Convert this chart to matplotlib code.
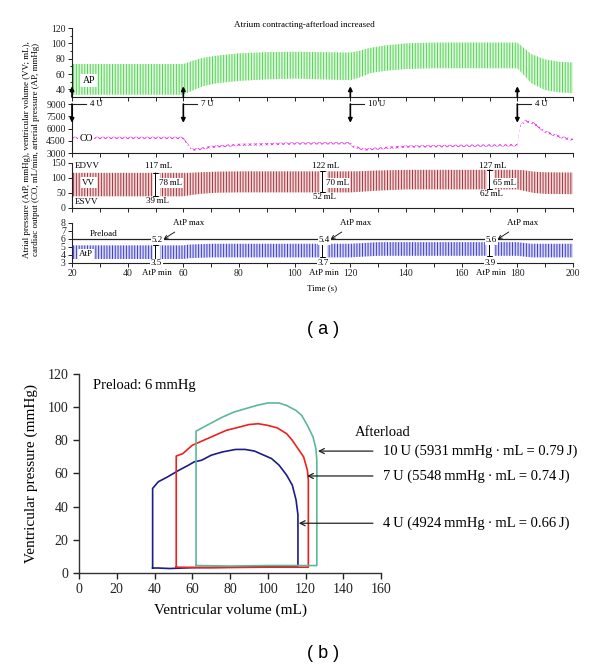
import numpy as np
import matplotlib
matplotlib.use("Agg")
import matplotlib.pyplot as plt

plt.rcParams['font.family'] = ['Liberation Serif', 'DejaVu Serif']
plt.rcParams['hatch.linewidth'] = 0.7

# ---------------- panel (a): envelope keypoints ----------------
ap_t = [20, 60, 63, 67, 72, 80, 90, 100, 120, 123, 127, 132, 140, 150, 160, 170, 180, 182, 185, 190, 195, 200]
ap_hi = [73, 73, 77, 81, 84, 87, 88.5, 89, 88, 90, 94, 97, 100, 101, 101, 101, 101, 95, 86, 79, 76, 75]
ap_lo = [33, 33, 38, 44, 48, 51, 53, 54, 52, 55, 61, 64, 66.5, 67.5, 67.5, 67.5, 67.5, 60, 48, 39, 36, 35]

co_t = [20, 60, 61, 63, 66, 70, 80, 100, 120, 121, 125, 130, 140, 160, 180, 181, 183, 186, 190, 195, 200]
co_v = [4850, 4850, 4300, 3400, 3500, 3750, 4000, 4170, 4200, 3800, 3420, 3550, 3790, 3880, 3960, 6300, 6950, 6600, 5600, 5000, 4600]

vv_t = [20, 60, 62, 66, 72, 80, 120, 122, 130, 140, 180, 182, 186, 190, 200]
vv_hi = [117, 117, 117, 119, 121, 122, 122, 122, 125, 127, 127, 126, 121, 119, 118]
vv_lo = [39, 39, 42, 47, 51, 52, 52, 53, 58, 62, 62, 58, 50, 47, 46]

atp_t = [20, 60, 62, 70, 120, 130, 180, 185, 200]
atp_hi = [5.2, 5.2, 5.3, 5.4, 5.4, 5.6, 5.6, 5.4, 5.4]
atp_lo = [3.5, 3.5, 3.6, 3.7, 3.7, 3.9, 3.9, 3.7, 3.7]
preload = 6

dose_t = [20, 60, 120, 180]
dose_lab = ['4\u2009U', '7\u2009U', '10\u2009U', '4\u2009U']

mark_t = [50, 110, 170]
edvv = [117, 122, 127]
esvv = [39, 52, 62]
sv = [78, 70, 65]
atp_max = [5.2, 5.4, 5.6]
atp_min = [3.5, 3.7, 3.9]

# ---------------- panel (b): PV loops ----------------
v4 = [39, 39, 42, 47, 53, 58, 61, 65, 70, 76, 83, 88, 93, 98, 102, 106, 110, 113, 115, 116, 116, 100, 80, 60, 48, 42, 39]
p4 = [3, 51, 55, 58, 62, 65, 67, 68, 71, 73, 74.5, 74.5, 73.5, 71, 69, 65, 59, 53, 44, 35, 4, 3.8, 3.5, 3.2, 2.7, 3, 3]
v7 = [51.5, 51.5, 55, 58, 60, 64, 70, 78, 85, 90, 95, 100, 105, 110, 113, 116, 119, 121, 121.5, 121.5, 100, 70, 51.5]
p7 = [3.5, 70.5, 72, 75, 77, 79, 82, 86, 88, 89.5, 90, 89, 87.5, 84, 80, 75, 70, 62, 56, 3.5, 3.5, 3.2, 3.5]
v10 = [62, 62, 66, 71, 76, 82, 88, 94, 100, 106, 110, 115, 118, 121, 124, 125.5, 126, 126, 100, 80, 62]
p10 = [4.5, 85.5, 88, 91, 94, 97, 99, 101, 102.5, 102.5, 101, 98, 95, 89, 82, 75, 68, 4.5, 4.5, 4.2, 4.5]
work_lab = ['10\u2009U (5931\u2009mmHg\u2009·\u2009mL = 0.79\u2009J)',
            '7\u2009U (5548\u2009mmHg\u2009·\u2009mL = 0.74\u2009J)',
            '4\u2009U (4924\u2009mmHg\u2009·\u2009mL = 0.66\u2009J)']
work_p = [73.5, 58.5, 30]
work_v = [126.6, 120.8, 116.4]

fig = plt.figure(figsize=(6, 6.69), dpi=100)
L, W = 0.12, 0.835
axAP = fig.add_axes([L, 0.855, W, 0.1031])
axCO = fig.add_axes([L, 0.7713, W, 0.0732])
axVV = fig.add_axes([L, 0.6891, W, 0.0673])
axAt = fig.add_axes([L, 0.6069, W, 0.0598])
fs = 6.5
wbox = dict(fc='white', ec='none', pad=0.6)

for ax in (axAP, axCO, axVV, axAt):
    ax.set_xlim(20, 200)
    for s in ('top', 'right'):
        ax.spines[s].set_visible(False)
    for s in ('left', 'bottom'):
        ax.spines[s].set_linewidth(0.8)
        ax.spines[s].set_color('#222222')
    ax.set_xticks(np.arange(20, 201, 10))
    ax.set_xticklabels([])
    ax.tick_params(direction='out', length=3, width=0.7, labelsize=7, pad=1.5, colors='#222222')
axAt.set_xticklabels([str(v) if v % 20 == 0 else '' for v in range(20, 201, 10)])

axAP.set_ylim(30, 120); axAP.set_yticks([40, 60, 80, 100, 120])
axAP.set_yticks([50, 70, 90, 110], minor=True)
axAP.tick_params(which='minor', axis='y', direction='out', length=1.5, width=0.6)
axCO.set_ylim(3000, 9000); axCO.set_yticks([3000, 4500, 6000, 7500, 9000])
axVV.set_ylim(0, 150); axVV.set_yticks([0, 50, 100, 150])
axAt.set_ylim(3, 8); axAt.set_yticks([3, 4, 5, 6, 7, 8])

# traces
axAP.fill_between(ap_t, ap_lo, ap_hi, facecolor='#dcf7dc', edgecolor='#55d455', hatch='||||||', lw=0)
axCO.fill_between(co_t, np.array(co_v) - 140, np.array(co_v) + 140, facecolor='none',
                  edgecolor='#e83ee8', hatch='xxxxxx', lw=0)
axVV.fill_between(vv_t, vv_lo, vv_hi, facecolor='#f0d8d8', edgecolor='#a8323a', hatch='||||||', lw=0)
axAt.fill_between(atp_t, atp_lo, atp_hi, facecolor='#d8d8f6', edgecolor='#3b3bd0', hatch='||||||', lw=0)
axAt.axhline(preload, color='#222222', lw=0.9)

# trace labels
axAP.text(26, 51, 'AP', fontsize=7, ha='center', va='center', bbox=dict(fc='white', ec='none', pad=1.5))
axCO.text(25, 4800, 'CO', fontsize=7, ha='center', va='center', bbox=dict(fc='white', ec='none', pad=1.0))
axVV.text(21, 139, 'EDVV', fontsize=fs, ha='left', va='center')
axVV.text(26, 84, 'VV', fontsize=fs, ha='center', va='center', bbox=dict(fc='white', ec='none', pad=1.0))
axVV.text(21, 20, 'ESVV', fontsize=fs, ha='left', va='center')
axAt.text(31.5, 6.65, 'Preload', fontsize=fs, ha='center', va='center')
axAt.text(25, 4.15, 'AtP', fontsize=fs, ha='center', va='center', bbox=dict(fc='white', ec='none', pad=0.8))

fig.text(0.508, 1 - 25 / 669, 'Atrium contracting-afterload increased', fontsize=fs, ha='center', va='center')

# interventions
arr = dict(arrowstyle='-|>', color='black', lw=1.2, mutation_scale=6, shrinkA=0, shrinkB=0)
for t, lab in zip(dose_t, dose_lab):
    axAP.annotate('', xy=(t, 44), xytext=(t, 30), arrowprops=arr, annotation_clip=False)
    axCO.annotate('', xy=(t, 6700), xytext=(t, 9000), arrowprops=arr, annotation_clip=False)
    axCO.plot([t, t + 5], [9000, 9000], color='#222222', lw=0.8, clip_on=False)
    axCO.text(t + 6.5, 9000, lab, fontsize=fs, ha='left', va='center')

# beat annotations
ibar = dict(arrowstyle='|-|, widthA=0.2, widthB=0.2', color='black', lw=0.7, shrinkA=0, shrinkB=0)
for t, hi, lo, s, amax, amin in zip(mark_t, edvv, esvv, sv, atp_max, atp_min):
    axVV.vlines(t, lo, hi, color='white', lw=5)
    axVV.annotate('', xy=(t, hi), xytext=(t, lo), arrowprops=ibar)
    axVV.text(t + 1.3, 140, f'{hi}\u2009mL', fontsize=fs, ha='center', va='center')
    axVV.text(t + 0.6, lo - 17, f'{lo}\u2009mL', fontsize=fs, ha='center', va='center')
    axVV.text(t + 1.2, 83, f'{s}\u2009mL', fontsize=fs, ha='left', va='center', bbox=wbox)

    axAt.vlines(t, amin, amax, color='white', lw=5)
    axAt.annotate('', xy=(t, amax), xytext=(t, amin), arrowprops=ibar)
    axAt.text(t + 0.6, 5.85, f'{amax}', fontsize=fs, ha='center', va='center', bbox=wbox)
    axAt.text(t + 0.3, 2.95, f'{amin}', fontsize=fs, ha='center', va='center', bbox=wbox, clip_on=False)
    axAt.text(t + 0.5, 1.72, 'AtP min', fontsize=fs, ha='center', va='center', clip_on=False)
    axAt.annotate('AtP max', xy=(t + 3, 6.0), xytext=(t + 12, 8.0), fontsize=fs, ha='center', va='center',
                  arrowprops=dict(arrowstyle='->', lw=0.6, color='black', shrinkA=3, shrinkB=0,
                                  mutation_scale=6), annotation_clip=False)

axAt.set_xlabel('Time (s)', fontsize=fs)
axAt.xaxis.set_label_coords(0.5, -0.52)
fig.text(0.0525, 0.776, 'Atrial pressure (AtP, mmHg), ventricular volume (VV; mL),\n'
         'cardiac output (CO, mL/min, arterial pressure (AP, mmHg)',
         rotation=90, ha='center', va='center', fontsize=fs, linespacing=1.25)
fig.text(323 / 600, 1 - 330 / 669, '( a )', family='Liberation Sans', fontsize=13, ha='center', va='center')

# ---------------- panel (b) ----------------
axB = fig.add_axes([0.1317, 0.1435, 0.5033, 0.2975])
axB.plot(v4, p4, color='#1c1c8a', lw=1.2)
axB.plot(v7, p7, color='#ee2020', lw=1.2)
axB.plot(v10, p10, color='#5cb897', lw=1.2)
axB.set_xlim(0, 160); axB.set_ylim(0, 120)
axB.set_xticks(range(0, 161, 20)); axB.set_yticks(range(0, 121, 20))
for s in ('top', 'right'):
    axB.spines[s].set_visible(False)
for s in ('left', 'bottom'):
    axB.spines[s].set_linewidth(1.0)
    axB.spines[s].set_color('#333333')
axB.tick_params(direction='out', length=4, width=1, labelsize=10, colors='#222222')
axB.set_xlabel('Ventricular volume (mL)', fontsize=11)
axB.set_ylabel('Ventricular pressure (mmHg)', fontsize=11)
axB.xaxis.set_label_coords(0.5, -0.155)
axB.yaxis.set_label_coords(-0.135, 0.5)
axB.text(7.5, 113, 'Preload: 6\u2009mmHg', fontsize=10.5, ha='left', va='center')
axB.text(146, 85, 'Afterload', fontsize=10.5, ha='left', va='center', clip_on=False)
for lab, p, v in zip(work_lab, work_p, work_v):
    axB.annotate('', xy=(v, p), xytext=(155.7, p), annotation_clip=False,
                 arrowprops=dict(arrowstyle='->', lw=0.9, color='#222222', shrinkA=0, shrinkB=0,
                                 mutation_scale=9))
    axB.text(161, p, lab, fontsize=10.5, ha='left', va='center', clip_on=False)
fig.text(323 / 600, 1 - 653 / 669, '( b )', family='Liberation Sans', fontsize=13, ha='center', va='center')

fig.savefig('out.png', dpi=100)
